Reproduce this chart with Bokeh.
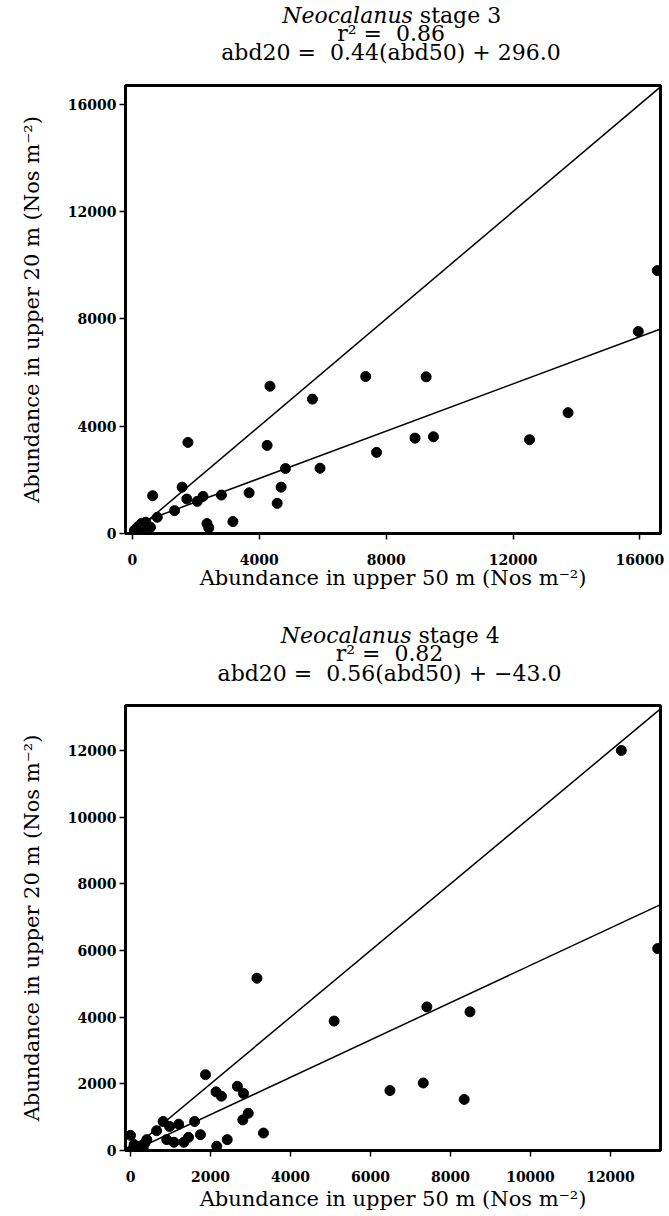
from bokeh.plotting import figure
from bokeh.models import Label, Range1d, FixedTicker
from bokeh.layouts import column
from bokeh.embed import file_html
from bokeh.resources import INLINE

# ---------------- data: Neocalanus stage 3 ----------------
s3_abd50 = [15950, 7355, 9260, 4335, 5675, 13735, 1748, 4245, 8910, 9490, 12520,
            7696, 4824, 5914, 1566, 4688, 636, 1714, 2043, 2225, 2804, 3678, 4563,
            1328, 783, 3167, 2350, 2406, 568, 16550, 60, 170, 280, 340, 230, 110, 420]
s3_abd20 = [7530, 5850, 5840, 5490, 5010, 4505, 3395, 3284, 3555, 3605, 3494,
            3025, 2420, 2432, 1728, 1728, 1407, 1284, 1198, 1383, 1432, 1518, 1123,
            852, 605, 444, 370, 210, 235, 9800, 120, 250, 370, 180, 60, 30, 420]
s3_slope = 0.44
s3_intercept = 296.0
s3_r2 = "0.86"
s3_eq = "abd20 =\u00a0 0.44(abd50) + 296.0"
s3_ticks = [0, 4000, 8000, 12000, 16000]

# ---------------- data: Neocalanus stage 4 ----------------
s4_abd50 = [13180, 12270, 3161, 5091, 7409, 8487, 1875, 2672, 2138, 2274, 2826,
            6486, 7319, 8342, 2944, 2808, 3324, 1603, 1205, 815, 978, 652, 1748,
            1449, 1332, 1087, 906, 2418, 2156, 408, 362, 0, 90, 136, 226, 27, 317]
s4_abd20 = [6057, 12000, 5168, 3883, 4308, 4160, 2273, 1927, 1759, 1630, 1709,
            1798, 2026, 1532, 1117, 919, 524, 870, 790, 870, 721, 593, 474,
            395, 247, 247, 326, 326, 128, 326, 227, 455, 178, 30, 128, 10, 79]
s4_slope = 0.56
s4_intercept = -43.0
s4_r2 = "0.82"
s4_eq = "abd20 =\u00a0 0.56(abd50) + \u221243.0"
s4_xticks = [0, 2000, 4000, 6000, 8000, 10000, 12000]
s4_yticks = [0, 2000, 4000, 6000, 8000, 10000, 12000]

x_label = "Abundance in upper 50 m (Nos m\u207b\u00b2)"
y_label = "Abundance in upper 20 m (Nos m\u207b\u00b2)"

FONT = "DejaVu Serif"
W = 668


def title_fig(height, left, stage, r2, eq, ys):
    t = figure(width=W, height=height, output_backend="svg", toolbar_location=None,
               x_range=Range1d(left, W - 8), y_range=Range1d(0, height),
               x_axis_location=None, y_axis_location=None,
               min_border_left=left, min_border_right=8,
               min_border_top=0, min_border_bottom=0)
    t.grid.visible = False
    t.outline_line_color = None
    y1, y2, y3 = [height - v for v in ys]
    common = dict(text_font=FONT, text_font_size="22px", text_color="black",
                  text_baseline="middle")
    t.add_layout(Label(x=411, y=y1, text="Neocalanus", text_font_style="italic",
                       text_align="right", **common))
    t.add_layout(Label(x=418, y=y1, text="stage " + stage, text_align="left", **common))
    t.add_layout(Label(x=389, y=y2, text="r\u00b2 =\u00a0 " + r2, text_align="center", **common))
    t.add_layout(Label(x=389, y=y3, text=eq, text_align="center", **common))
    return t


def panel(xs, ys, slope, intercept, xr, yr, xticks, yticks, height, left, bottom, xstand):
    p = figure(width=W, height=height, output_backend="svg", toolbar_location=None,
               x_range=Range1d(*xr), y_range=Range1d(*yr),
               min_border_left=left, min_border_right=8,
               min_border_top=5, min_border_bottom=bottom)
    p.grid.visible = False
    p.outline_line_color = "black"
    p.outline_line_width = 3

    for ax, ticks in ((p.xaxis, xticks), (p.yaxis, yticks)):
        ax.ticker = FixedTicker(ticks=ticks, minor_ticks=[])
        ax.axis_line_width = 3
        ax.major_tick_line_width = 1.5
        ax.major_tick_out = 6
        ax.major_tick_in = 0
        ax.minor_tick_out = 0
        ax.minor_tick_in = 0
        ax.major_label_text_font = FONT
        ax.major_label_text_font_style = "bold"
        ax.major_label_text_font_size = "14px"
        ax.major_label_text_color = "black"
        ax.axis_label_text_font = FONT
        ax.axis_label_text_font_style = "normal"
        ax.axis_label_text_font_size = "21px"
        ax.axis_label_text_color = "black"
    p.xaxis.axis_label = x_label
    p.yaxis.axis_label = y_label
    p.xaxis.major_label_standoff = 14
    p.yaxis.major_label_standoff = 3
    p.xaxis.axis_label_standoff = xstand
    p.yaxis.axis_label_standoff = 21

    xmax = xr[1]
    # 1:1 line
    p.line([0, xmax], [0, xmax], line_color="black", line_width=1.5)
    # regression line
    p.line([0, xmax], [intercept, slope * xmax + intercept], line_color="black", line_width=1.5)
    p.scatter(xs, ys, size=10, color="black")
    return p


t1 = title_fig(80, 122, "3", s3_r2, s3_eq, (15, 33, 52))
p1 = panel(s3_abd50, s3_abd20, s3_slope, s3_intercept,
           (-220, 16650), (0, 16700), s3_ticks, s3_ticks,
           height=533, left=122, bottom=80, xstand=-2)
t2 = title_fig(87, 125, "4", s4_r2, s4_eq, (22, 40, 60))
p2 = panel(s4_abd50, s4_abd20, s4_slope, s4_intercept,
           (-125, 13250), (0, 13350), s4_xticks, s4_yticks,
           height=513, left=125, bottom=60, xstand=2)

layout = column(t1, p1, t2, p2, spacing=0)
open("out.html", "w").write(file_html(layout, INLINE))
